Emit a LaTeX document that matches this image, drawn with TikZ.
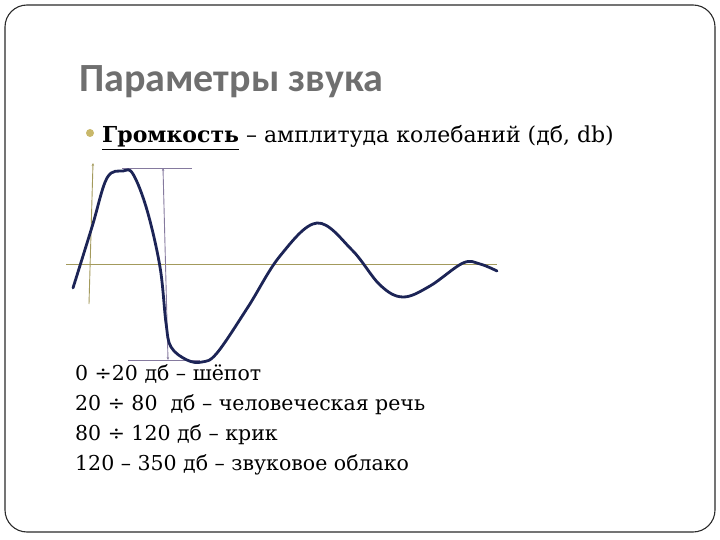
\documentclass[tikz,border=0pt]{standalone}
\usepackage{fontspec}
\setmainfont{DejaVu Serif}
\newfontfamily\slidesans{Carlito}
\usetikzlibrary{arrows.meta}
\definecolor{SlideInk}{HTML}{1C2456}
\definecolor{SlideAxis}{HTML}{A39A5C}
\definecolor{SlideGuide}{HTML}{857A9E}
\definecolor{SlideTitle}{HTML}{6F6F6F}
\definecolor{SlideBullet}{HTML}{C9B86A}
\definecolor{SlideFrame}{HTML}{2A2A2A}

\begin{document}
\begin{tikzpicture}[
    x=1bp,
    y=-1bp,
    frame/.style={draw=SlideFrame, line width=1.1bp, rounded corners=22bp},
    title/.style={anchor=base west, inner sep=0pt, text=SlideTitle, font=\slidesans\bfseries\fontsize{40bp}{44bp}\selectfont},
    body/.style={anchor=base west, inner sep=0pt, text=black, font=\fontsize{22bp}{26bp}\selectfont},
    level/.style={anchor=base west, inner sep=0pt, text=black, font=\fontsize{20.5bp}{24bp}\selectfont},
    bullet/.style={circle, fill=SlideBullet, minimum size=8bp, inner sep=0pt},
    axis/.style={draw=SlideAxis, line width=0.9bp},
    guide/.style={draw=SlideGuide, line width=0.9bp},
    wave/.style={draw=SlideInk, line width=2.8bp, line cap=round, line join=round}
  ]
    \useasboundingbox (0,0) rectangle (720,540);
    \path[frame] (5,5) rectangle (715,532);

    \node[title] (title) at (79,92) {Параметры звука};
    \node[bullet] (dot) at (90,133) {};
    \node[body] (loud) at (102,143) {\underline{\textbf{Громкость}} -- амплитуда колебаний (дб, db)};

    % axes
    \coordinate (xl) at (66,264);
    \coordinate (xr) at (497,264);
    \coordinate (yb) at (89,304);
    \coordinate (yt) at (93,163);
    \draw[axis] (xl) -- (xr);
    \draw[axis, -{Stealth[length=3bp,width=2.5bp]}] (yb) -- (yt);

    % amplitude guides
    \coordinate (gtl) at (122,168);
    \coordinate (gtr) at (192,168);
    \coordinate (gbl) at (128,360);
    \coordinate (gbr) at (200,360);
    \coordinate (gt) at (163,168);
    \coordinate (gb) at (168,360);
    \draw[guide] (gtl) -- (gtr);
    \draw[guide] (gbl) -- (gbr);
    \draw[guide, {Stealth[length=3bp,width=2.5bp]}-{Stealth[length=3bp,width=2.5bp]}] (gt) -- (gb);

    % damped wave
    \draw[wave] plot[smooth, tension=0.6] coordinates {
      (73,288) (92,227) (107,178) (123,171) (133,174) (147,210)
      (160,267) (166,323) (171,347) (187,360) (202,362) (217,353)
      (248,307) (280,256) (317,223) (352,250) (380,285) (403,297)
      (430,286) (463,263) (480,264) (497,271)};

    \node[level] (lvl1) at (75,380) {0 ÷20 дб -- шёпот};
    \node[level] (lvl2) at (75,410) {20 ÷ 80~ дб -- человеческая речь};
    \node[level] (lvl3) at (75,440) {80 ÷ 120 дб -- крик};
    \node[level] (lvl4) at (75,470) {120 -- 350 дб -- звуковое облако};
  \end{tikzpicture}
\end{document}
